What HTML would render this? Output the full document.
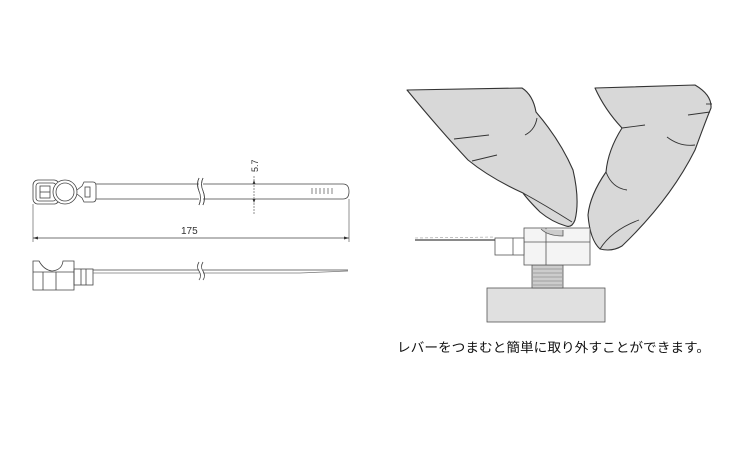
<!DOCTYPE html>
<html><head><meta charset="utf-8"><style>
html,body{margin:0;padding:0;background:#fff;width:750px;height:450px;overflow:hidden}
svg{display:block}
</style></head><body>
<svg width="750" height="450" viewBox="0 0 750 450" xmlns="http://www.w3.org/2000/svg" font-family="Liberation Sans, sans-serif">
<g fill="none" stroke="#444" stroke-width="0.8">
<!-- top view -->
<rect x="33" y="180" width="26" height="24" rx="5" fill="#fff"/>
<rect x="36" y="183" width="20" height="18" rx="3"/>
<rect x="40" y="186" width="10" height="12"/>
<line x1="40" y1="192" x2="50" y2="192"/>
<circle cx="65" cy="192" r="12" fill="#fff"/>
<circle cx="65" cy="192" r="9"/>
<path d="M77 190 L82 186 L84 182 L93 182 Q96 182 96 186 L96 198 Q96 202 93 202 L84 202 L82 198 L77 194"/>
<rect x="85" y="187" width="5" height="10"/>
<path d="M96 184 L343 184 Q349 184 349 191.5 Q349 199 343 199 L96 199"/>
<g stroke="#666"><line x1="312" y1="188" x2="312" y2="194"/><line x1="316" y1="188" x2="316" y2="194"/><line x1="320" y1="188" x2="320" y2="194"/><line x1="324" y1="188" x2="324" y2="194"/><line x1="328" y1="188" x2="328" y2="194"/><line x1="332" y1="188" x2="332" y2="194"/></g>
<path d="M199 178 Q196 184 199 191 Q202 198 199 205" stroke="#555"/>
<path d="M203 178 Q200 184 203 191 Q206 198 203 205" stroke="#555"/>
<rect x="199" y="183" width="4" height="17" fill="#fff" stroke="none"/>
<path d="M199 178 Q196 184 199 191 Q202 198 199 205"/>
<path d="M203 178 Q200 184 203 191 Q206 198 203 205"/>
<!-- 5.7 dimension -->
<line x1="254" y1="176" x2="254" y2="215" stroke="#777" stroke-dasharray="2,1"/>
<!-- 175 dimension -->
<line x1="33" y1="204" x2="33" y2="242" stroke="#777"/>
<line x1="349" y1="199" x2="349" y2="242" stroke="#777"/>
<line x1="33" y1="238" x2="349" y2="238"/>
<!-- side view -->
<path d="M33 290 L33 261 L39 261 Q44 270 52 271 Q62 270 63 261 L74 261 L74 290 Z" fill="#fff"/>
<line x1="33" y1="272" x2="74" y2="272"/>
<line x1="43" y1="272" x2="43" y2="290"/>
<line x1="56" y1="272" x2="56" y2="290"/>
<rect x="74" y="269" width="19" height="16"/>
<line x1="81" y1="269" x2="81" y2="285"/><line x1="86" y1="269" x2="86" y2="285"/>
<line x1="93" y1="270" x2="348" y2="270"/>
<line x1="93" y1="273" x2="300" y2="273" stroke="#777"/>
<line x1="300" y1="273" x2="348" y2="271" stroke="#777"/>
<rect x="199" y="262" width="4" height="18" fill="#fff" stroke="none"/>
<path d="M199 262 Q196 267 199 271 Q202 276 199 280"/>
<path d="M203 262 Q200 267 203 271 Q206 276 203 280"/>
</g>
<g fill="#333">
<path d="M254 180 l-1.5 4 h3 z"/><path d="M254 203 l-1.5 -4 h3 z"/>
<path d="M33 238 l5 -1.5 v3 z"/><path d="M349 238 l-5 -1.5 v3 z"/>
</g>
<text x="258" y="172" font-size="9" fill="#333" transform="rotate(-90 258 172)">5.7</text>
<text x="181" y="234" font-size="10" fill="#333">175</text>

<!-- right illustration -->
<g stroke="#333" stroke-width="1.1" stroke-linejoin="round">
<path d="M407 90 L522 88 Q533 95 536 112 Q560 140 573 170 Q580 200 575 220 Q572 228 566 226 Q552 222 540 212 Q528 200 523 193 Q490 178 468 160 Q440 130 407 90 Z" fill="#d8d8d8"/>
<path d="M595 88 L695 85 Q712 95 711 108 Q706 120 695 150 Q670 200 622 246 Q612 252 600 249 Q590 240 588 215 Q590 195 606 172 Q608 150 622 128 Q605 110 595 88 Z" fill="#d8d8d8"/>
</g>
<g stroke="#333" stroke-width="0.9" fill="none">
<path d="M454 139 L489 135"/><path d="M472 161 L497 155"/><path d="M525 135 Q535 130 537 118"/>
<path d="M523 193 Q545 205 572 222"/>
<path d="M622 128 L645 125"/><path d="M667 137 Q680 147 695 145"/><path d="M688 115 L710 112"/><path d="M706 104 L712 104"/>
<path d="M606 172 Q612 188 627 190"/>
<path d="M600 249 Q612 230 639 220"/>
</g>
<g stroke="#555" stroke-width="0.8" fill="#fff">
<rect x="487" y="288" width="118" height="34" fill="#e0e0e0"/>
<rect x="532" y="265" width="31" height="23" fill="#ccc"/>
<rect x="524" y="228" width="66" height="37" fill="#f4f4f4"/>
<rect x="495" y="238" width="29" height="17"/>
<line x1="513" y1="238" x2="513" y2="255"/>
<line x1="546" y1="228" x2="546" y2="265"/>
<line x1="524" y1="242" x2="590" y2="242"/>
<path d="M541 229 Q548 236 563 236 L563 230" fill="#ccc"/>
</g>
<g stroke="#777" stroke-width="0.6">
<line x1="533" y1="269" x2="562" y2="269"/><line x1="533" y1="273" x2="562" y2="273"/><line x1="533" y1="277" x2="562" y2="277"/><line x1="533" y1="281" x2="562" y2="281"/><line x1="533" y1="285" x2="562" y2="285"/>
</g>
<line x1="415" y1="240" x2="495" y2="240" stroke="#444" stroke-width="1.2"/>
<line x1="415" y1="238" x2="495" y2="237" stroke="#999" stroke-width="0.6" stroke-dasharray="3,2"/>
<text x="397" y="352" font-size="13" fill="#111" textLength="313" lengthAdjust="spacingAndGlyphs" font-family="Liberation Sans, Noto Sans CJK JP, sans-serif">レバーをつまむと簡単に取り外すことができます。</text>
</svg>
</body></html>
